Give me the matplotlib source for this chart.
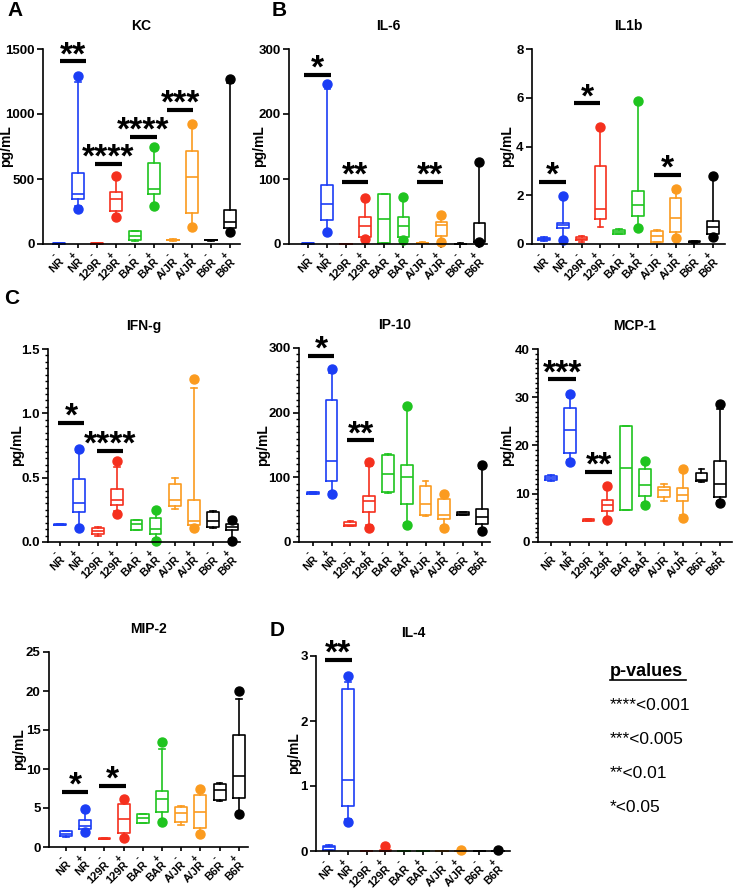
import matplotlib
matplotlib.use("Agg")
import matplotlib.pyplot as plt
from matplotlib.ticker import MultipleLocator
from matplotlib.lines import Line2D
from matplotlib.transforms import ScaledTranslation

plt.rcParams['font.family'] = ['Liberation Sans', 'DejaVu Sans']

# categories
strains = ["NR", "NR", "129R", "129R", "BAR", "BAR", "A/JR", "A/JR", "B6R", "B6R"]
signs = ["-", "+"] * 5
colors = ["#1b3df5", "#1b3df5", "#f5301e", "#f5301e", "#1fc41f", "#1fc41f",
          "#fb9b1f", "#fb9b1f", "#000000", "#000000"]

# box stats per group: (whisker low, q1, median, q3, whisker high)
kc_box = [(2, 3, 5, 7, 9), (290, 346, 387, 546, 1244), (2, 3, 5, 7, 9), (215, 256, 346, 403, 505),
          (25, 28, 64, 100, 103), (300, 387, 423, 620, 730), (25, 27, 30, 34, 36), (135, 238, 515, 715, 905),
          (26, 28, 30, 32, 34), (95, 126, 167, 264, 1238)]
kc_dots = [[], [1295, 272], [], [520, 208], [], [744, 295], [], [920, 128], [], [1270, 92]]
kc_sig = [(0.04, 1.44, 1404, "**"), (1.91, 3.32, 615, "****"), (3.75, 5.16, 825, "****"), (5.68, 7.09, 1030, "***")]

il6_box = [(0.5, 0.6, 0.8, 1, 1.2), (22, 37, 62, 91, 238), (0.3, 0.4, 0.5, 0.6, 0.7), (10, 11, 27, 41.5, 66),
           (1, 1, 38, 77, 77), (8, 11, 28, 41, 67), (1.5, 1.8, 2, 2.3, 2.5), (5, 12, 30, 34, 40),
           (0.3, 0.5, 0.6, 0.7, 0.8), (3, 3, 5, 32, 122)]
il6_dots = [[], [246, 19], [], [71, 8], [], [72, 6], [], [44, 3], [], [126, 2.5]]
il6_sig = [(-0.21, 1.18, 260, "*"), (1.75, 3.16, 95, "**"), (5.70, 7.11, 95, "**")]

il1b_box = [(0.12, 0.15, 0.2, 0.25, 0.27), (0.2, 0.65, 0.76, 0.85, 1.9), (0.1, 0.15, 0.22, 0.28, 0.32),
            (0.69, 1.02, 1.44, 3.2, 4.67), (0.4, 0.42, 0.5, 0.57, 0.6), (0.7, 1.15, 1.6, 2.19, 5.8),
            (0.08, 0.1, 0.33, 0.55, 0.58), (0.3, 0.51, 1.07, 1.88, 2.15), (0.06, 0.07, 0.09, 0.11, 0.12),
            (0.3, 0.41, 0.71, 0.93, 2.75)]
il1b_dots = [[], [1.95, 0.18], [], [4.8], [], [5.88, 0.66], [], [2.27, 0.23], [], [2.79, 0.27]]
il1b_sig = [(-0.25, 1.17, 2.54, "*"), (1.59, 3.0, 5.77, "*"), (5.86, 7.27, 2.83, "*")]

ifng_box = [(0.13, 0.132, 0.135, 0.138, 0.14), (0.12, 0.23, 0.30, 0.49, 0.70), (0.05, 0.06, 0.085, 0.11, 0.12),
            (0.24, 0.29, 0.33, 0.41, 0.58), (0.09, 0.09, 0.14, 0.17, 0.17), (0.02, 0.06, 0.10, 0.19, 0.24),
            (0.26, 0.28, 0.33, 0.45, 0.50), (0.12, 0.13, 0.16, 0.33, 1.20), (0.11, 0.12, 0.16, 0.235, 0.24),
            (0.02, 0.09, 0.12, 0.14, 0.16)]
ifng_dots = [[], [0.72, 0.11], [], [0.63, 0.22], [], [0.25, 0.005], [], [1.27, 0.11], [], [0.17, 0.01]]
ifng_sig = [(-0.12, 1.27, 0.925, "*"), (1.92, 3.31, 0.71, "****")]

ip10_box = [(74, 75, 76, 77, 78), (78, 94, 125, 219.6, 262), (24, 25, 27, 31, 33), (26, 46, 64, 70.6, 118),
            (76, 77, 105, 134, 136), (30, 59, 100.5, 119, 208), (40, 41, 58, 87, 94), (24, 35.5, 41, 66, 72),
            (41, 42, 44, 46, 47), (20, 28, 38.7, 51, 115)]
ip10_dots = [[], [267.5, 75], [], [123, 22], [], [211, 27], [], [75, 21], [], [118.5, 17]]
ip10_sig = [(-0.23, 1.15, 288, "*"), (1.84, 3.26, 157, "**")]

mcp1_box = [(12.6, 12.8, 13.2, 13.7, 13.9), (17, 18.4, 23.3, 27.8, 30), (4.3, 4.4, 4.5, 4.7, 4.8),
            (5, 6.5, 7.6, 8.7, 11), (6.7, 6.7, 15.3, 24, 24), (8, 9.6, 11.9, 15.2, 16.3),
            (8.5, 9.3, 10.8, 11.5, 12), (5.5, 8.6, 9.8, 11.1, 14.5), (12.5, 12.6, 12.9, 14.4, 15.1),
            (8.5, 9.3, 12, 16.8, 27.5)]
mcp1_dots = [[], [30.7, 16.6], [], [11.6, 4.6], [], [16.8, 7.7], [], [15.1, 5], [], [28.5, 8]]
mcp1_sig = [(-0.14, 1.33, 33.7, "***"), (1.81, 3.27, 14.5, "**")]

mip2_box = [(1.3, 1.37, 1.7, 2.05, 2.1), (2.0, 2.26, 2.7, 3.4, 4.6), (1.0, 1.0, 1.05, 1.1, 1.1),
            (1.2, 1.84, 3.55, 5.47, 5.9), (3.12, 3.12, 3.76, 4.27, 4.27), (3.3, 4.49, 6.2, 7.18, 12.6),
            (2.86, 3.2, 4.36, 5.13, 5.3), (1.8, 2.48, 4.49, 6.7, 7.2), (5.9, 6.07, 7.3, 8.1, 8.2),
            (4.4, 6.3, 9.1, 14.4, 19)]
mip2_dots = [[], [4.83, 1.9], [], [6.1, 1.1], [], [13.5, 3.2], [], [7.5, 1.67], [], [20, 4.2]]
mip2_sig = [(-0.23, 1.16, 7.05, "*"), (1.74, 3.13, 7.8, "*")]

il4_box = [(0.01, 0.015, 0.056, 0.08, 0.1), (0.5, 0.69, 1.09, 2.49, 2.6), (0, 0, 0, 0, 0),
           (0, 0, 0.005, 0.01, 0.01), (0, 0, 0, 0, 0), (0, 0, 0, 0, 0), (0, 0, 0, 0, 0),
           (0, 0, 0, 0.005, 0.01), (0, 0, 0, 0, 0), (0, 0, 0, 0, 0.01)]
il4_dots = [[], [2.69, 0.44], [], [0.07], [], [], [], [0.02], [], [0.02]]
il4_sig = [(-0.21, 1.2, 2.94, "**")]

W, H = 733, 889
fig = plt.figure(figsize=(W / 100, H / 100), dpi=100)


def rect(x0, x1, ytop, ybot):
    return [x0 / W, 1 - ybot / H, (x1 - x0) / W, (ybot - ytop) / H]


def panel(pos, xlim, lab_dx, title, box, dots, sig, ymax, major, minor=None, fmt=None):
    ax = fig.add_axes(rect(*pos))
    stats = []
    for (lo, q1, med, q3, hi), fl in zip(box, dots):
        stats.append(dict(whislo=lo, q1=q1, med=med, q3=q3, whishi=hi, fliers=fl))
    art = ax.bxp(stats, positions=range(10), widths=0.62, capwidths=0.3,
                 showfliers=True, patch_artist=False)
    for i, c in enumerate(colors):
        for a in [art['boxes'][i], art['medians'][i]] + art['whiskers'][2*i:2*i+2] + art['caps'][2*i:2*i+2]:
            a.set_color(c)
            a.set_linewidth(1.2)
            a.set_clip_on(False)
        f = art['fliers'][i]
        f.set(marker='o', markerfacecolor=c, markeredgecolor=c, markersize=6.5, clip_on=False)
    for x0, x1, y, stars in sig:
        ax.plot([x0, x1], [y, y], color='black', lw=3, solid_capstyle='butt', clip_on=False)
        ax.annotate(stars, ((x0 + x1) / 2, y), xytext=(0, -2), textcoords='offset points',
                    ha='center', va='baseline', fontsize=24, fontweight='bold', annotation_clip=False)
    ax.set_xlim(*xlim)
    ax.set_ylim(0, ymax)
    ax.yaxis.set_major_locator(MultipleLocator(major))
    if minor:
        ax.yaxis.set_minor_locator(MultipleLocator(minor))
    if fmt:
        ax.yaxis.set_major_formatter(fmt)
    ax.set_xticks(range(10))
    ax.set_xticklabels(strains, rotation=45, ha='right', va='top', rotation_mode='anchor',
                       fontsize=8, fontweight='bold')
    shift = ScaledTranslation(0.06, 0, fig.dpi_scale_trans)
    for lab in ax.get_xticklabels():
        lab.set_transform(lab.get_transform() + shift)
    for i, s in enumerate(signs):
        ax.annotate(s, (i, 0), xycoords=('data', 'axes fraction'), xytext=(-3.5, -8),
                    textcoords='offset points', rotation=45, ha='center', va='center',
                    fontsize=7, fontweight='bold', annotation_clip=False)
    for lab in ax.get_yticklabels():
        lab.set_fontweight('bold')
        lab.set_fontsize(9.5)
    ax.spines['top'].set_visible(False)
    ax.spines['right'].set_visible(False)
    ax.spines['left'].set_linewidth(1.2)
    ax.spines['bottom'].set_linewidth(1.2)
    ax.tick_params(axis='both', which='major', width=1.2, length=4, pad=2)
    ax.tick_params(axis='y', which='minor', width=1, length=2.5)
    ax.tick_params(axis='x', length=3, pad=6)
    ax.set_ylabel("pg/mL", fontsize=10, fontweight='bold')
    ax.yaxis.set_label_coords(-lab_dx / (pos[1] - pos[0]), 0.5)
    ax.set_title(title, fontsize=10, fontweight='bold', pad=14)
    return ax


panel((43, 240, 49, 244), (-0.83, 9.54), 30, "KC", kc_box, kc_dots, kc_sig, 1500, 500)
panel((289, 487, 49, 244), (-1.02, 9.4), 23, "IL-6", il6_box, il6_dots, il6_sig, 300, 100)
panel((532, 725, 49, 244), (-0.64, 9.63), 18, "IL1b", il1b_box, il1b_dots, il1b_sig, 8, 2)
panel((48, 240, 349, 542), (-0.63, 9.42), 24, "IFN-g", ifng_box, ifng_dots, ifng_sig, 1.5, 0.5, 0.05, '{x:.1f}')
panel((299, 490, 348, 542), (-0.73, 9.43), 29, "IP-10", ip10_box, ip10_dots, ip10_sig, 300, 100, 10)
panel((538, 732, 349, 542), (-0.69, 9.63), 24, "MCP-1", mcp1_box, mcp1_dots, mcp1_sig, 40, 10, 1)
panel((49, 248, 652, 847), (-0.89, 9.48), 23, "MIP-2", mip2_box, mip2_dots, mip2_sig, 25, 5)
panel((316, 510, 656, 851), (-0.69, 9.63), 15, "IL-4", il4_box, il4_dots, il4_sig, 3, 1)

# panel letters
for letter, x, y in [("A", 7, 10), ("B", 272, 10), ("C", 4, 298), ("D", 270, 631)]:
    fig.text(x / W, 1 - y / H, letter, fontsize=15, fontweight='bold', ha='left', va='center')

# p-value key
fig.text(610 / W, 1 - 672 / H, "p-values", fontsize=13, fontweight='bold', ha='left', va='center')
fig.add_artist(Line2D([610 / W, 686 / W], [1 - 680 / H, 1 - 680 / H], color='black', lw=1.2))
for txt, y in [("****<0.001", 705), ("***<0.005", 739), ("**<0.01", 773), ("*<0.05", 807)]:
    fig.text(610 / W, 1 - y / H, txt, fontsize=12.5, ha='left', va='center')

fig.savefig("out.png", dpi=100)
